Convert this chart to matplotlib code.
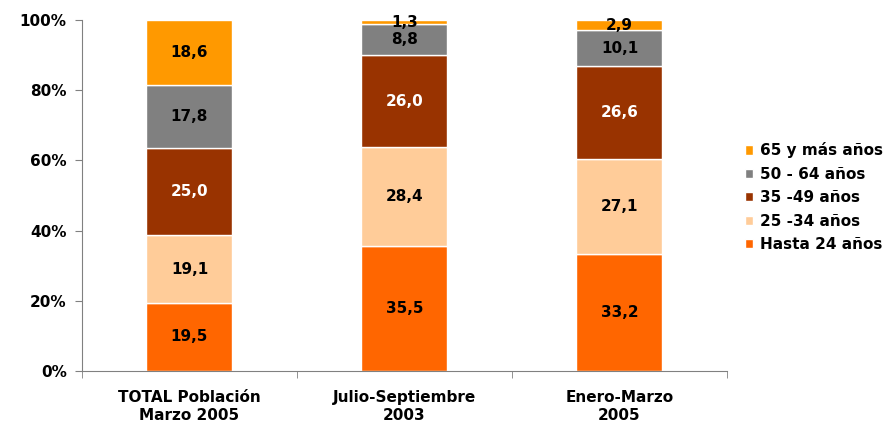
import matplotlib
matplotlib.use("Agg")
import matplotlib.pyplot as plt
import numpy as np

# categories and series (percentages)
categories = ["TOTAL Población\nMarzo 2005", "Julio-Septiembre\n2003", "Enero-Marzo\n2005"]
series_names = ["Hasta 24 años", "25 -34 años", "35 -49 años", "50 - 64 años", "65 y más años"]
hasta_24 = [19.5, 35.5, 33.2]
de_25_34 = [19.1, 28.4, 27.1]
de_35_49 = [25.0, 26.0, 26.6]
de_50_64 = [17.8, 8.8, 10.1]
de_65_mas = [18.6, 1.3, 2.9]

colors = ["#FF6600", "#FFCC99", "#993300", "#808080", "#FF9900"]
text_colors = ["black", "black", "white", "black", "black"]

def main():
    plt.rcParams['font.family'] = ['DejaVu Sans']
    fs = 11
    fig = plt.figure(figsize=(8.94, 4.24), dpi=100)
    ax = fig.add_axes([0.0917, 0.125, 0.7215, 0.828])

    data = [hasta_24, de_25_34, de_35_49, de_50_64, de_65_mas]
    x = np.arange(len(categories))
    bottom = np.zeros(len(categories))
    handles = []
    for vals, name, c, tc in zip(data, series_names, colors, text_colors):
        vals = np.array(vals)
        bars = ax.bar(x, vals, width=0.4, bottom=bottom, color=c,
                      edgecolor="white", linewidth=1, label=name)
        handles.append(bars)
        for xi, b, v in zip(x, bottom, vals):
            ax.text(xi, b + v / 2, f"{v:.1f}".replace(".", ","), ha="center",
                    va="center", color=tc, fontsize=fs, fontweight="bold")
        bottom += vals

    ax.set_xlim(-0.5, 2.5)
    ax.set_ylim(0, 100)
    ax.set_yticks(np.arange(0, 101, 20))
    ax.set_yticklabels([f"{v}%" for v in range(0, 101, 20)], fontsize=fs, fontweight="bold")
    ax.set_xticks(x)
    ax.set_xticklabels(categories, fontsize=fs, fontweight="bold", linespacing=1.25)
    ax.tick_params(axis="x", length=0, pad=14)
    ax.set_xticks([-0.5, 0.5, 1.5, 2.5], minor=True)
    ax.tick_params(axis="x", which="minor", length=5, color="#808080")
    ax.tick_params(axis="y", length=5, color="#808080", pad=6)
    for s in ["top", "right"]:
        ax.spines[s].set_visible(False)
    for s in ["left", "bottom"]:
        ax.spines[s].set_color("#808080")

    fig.legend(handles[::-1], series_names[::-1], loc="center left",
               bbox_to_anchor=(0.818, 0.535), frameon=False,
               prop={"size": fs, "weight": "bold"},
               handlelength=0.55, handleheight=0.55, handletextpad=0.45,
               labelspacing=0.55)

    fig.savefig("out.png", dpi=100)


if __name__ == "__main__":
    main()
